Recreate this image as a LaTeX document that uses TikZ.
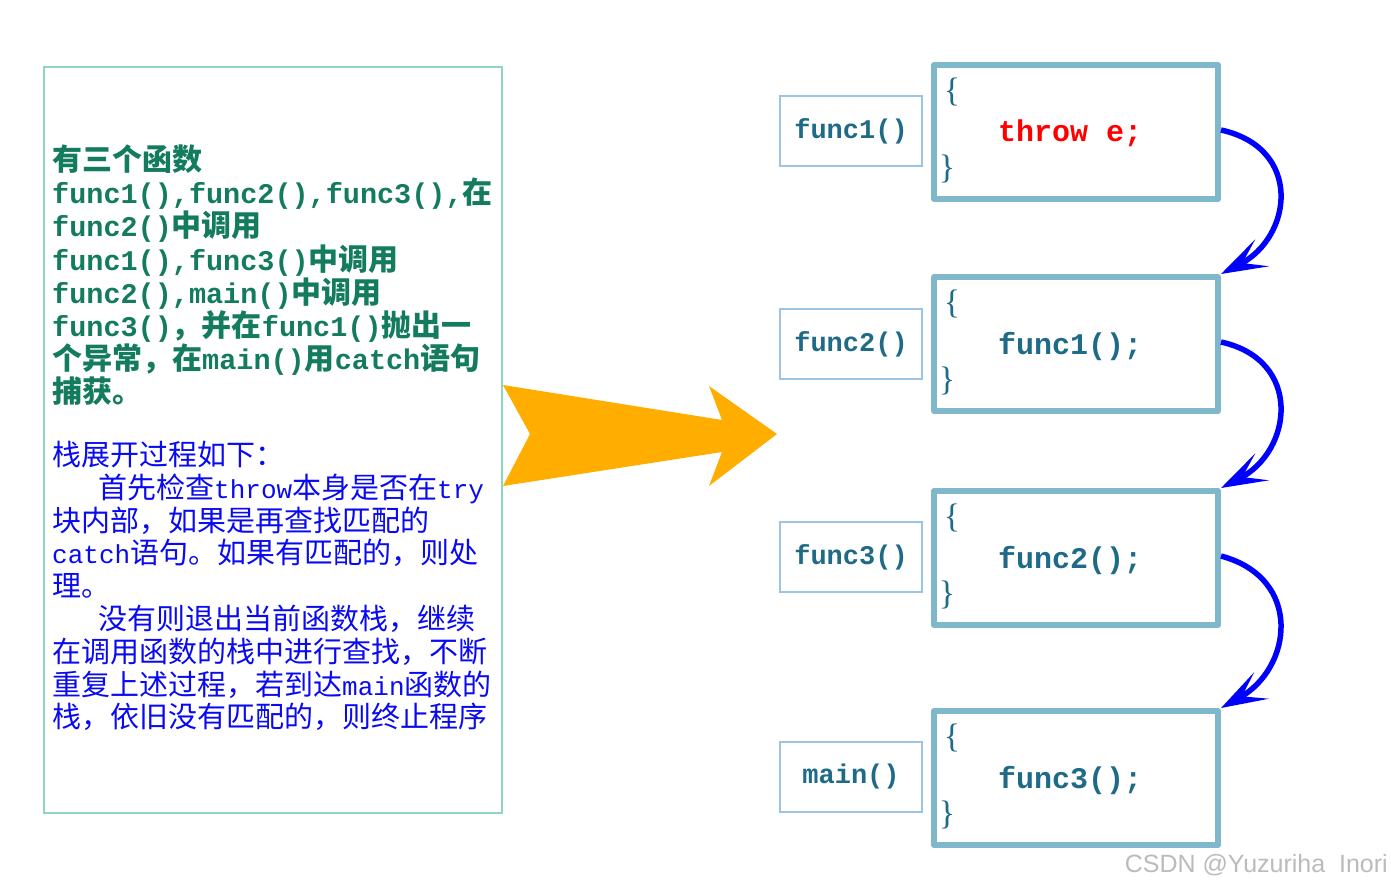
\documentclass[tikz,border=0pt]{standalone}
\usepackage{fontspec}
\setmainfont{Liberation Serif}
\newfontfamily\cjk{Noto Sans CJK SC}
\newfontfamily\mono{Liberation Mono}
\newfontfamily\wmfont{Liberation Sans}
\usetikzlibrary{arrows.meta}
\definecolor{gtxt}{HTML}{137B5E}
\definecolor{btxt}{HTML}{0A0AF0}
\definecolor{code}{HTML}{1F6B87}
\definecolor{boxc}{HTML}{7FB7CB}
\definecolor{lbox}{HTML}{9DC3E6}
\definecolor{mint}{HTML}{8ED6C2}
\definecolor{orng}{HTML}{FFAE00}
\definecolor{wmc}{HTML}{BBBBBB}
\newcommand\Gl[1]{{\mono\bfseries\fontsize{28.5}{33}\selectfont #1}}
\newcommand\Bl[1]{{\mono\fontsize{26}{33}\selectfont #1}}
\tikzset{
  gline/.style={anchor=base west, inner sep=0pt, text=gtxt, font=\cjk\bfseries\fontsize{30}{33}\selectfont},
  bline/.style={anchor=base west, inner sep=0pt, text=btxt, font=\cjk\fontsize{29}{33}\selectfont},
  leftbox/.style={draw=mint, line width=1.5pt, minimum width=458pt, minimum height=746pt, inner sep=0pt},
  smallbox/.style={draw=lbox, line width=1.5pt, minimum width=142pt, minimum height=70pt, inner sep=0pt, text=code, font=\mono\bfseries\fontsize{27}{30}\selectfont},
  bigbox/.style={draw=boxc, line width=6pt, line join=round, minimum width=284pt, minimum height=134pt, inner sep=0pt},
  brace/.style={inner sep=0pt, text=code, font=\fontsize{34}{36}\selectfont},
  codetxt/.style={anchor=base west, inner sep=0pt, text=code, font=\mono\bfseries\fontsize{30}{33}\selectfont},
  flow/.style={draw=blue, line width=5.5pt, -{Stealth[length=46pt,width=30pt,inset=22pt]}},
}
\begin{document}
\begin{tikzpicture}[x=1pt, y=-1pt]
\useasboundingbox (0,0) rectangle (1391,885);
% left box
\node[leftbox] (lb) at (273,440) {};
\node[gline] (g1) at (52,171) {有三个函数};
\node[gline] (g2) at (52,204) {\Gl{func1(),func2(),func3(),}在};
\node[gline] (g3) at (52,237) {\Gl{func2()}中调用};
\node[gline] (g4) at (52,270) {\Gl{func1(),func3()}中调用};
\node[gline] (g5) at (52,303) {\Gl{func2(),main()}中调用};
\node[gline] (g6) at (52,336) {\Gl{func3()}，并在\Gl{func1()}抛出一};
\node[gline] (g7) at (52,369) {个异常，在\Gl{main()}用\Gl{catch}语句};
\node[gline] (g8) at (52,402) {捕获。};
\node[bline] (t1) at (52,465) {栈展开过程如下：};
\node[bline] (t2) at (98,498) {首先检查\Bl{throw}本身是否在\Bl{try}};
\node[bline] (t3) at (52,531) {块内部，如果是再查找匹配的};
\node[bline] (t4) at (52,563) {\Bl{catch}语句。如果有匹配的，则处};
\node[bline] (t5) at (52,596) {理。};
\node[bline] (t6) at (98,629) {没有则退出当前函数栈，继续};
\node[bline] (t7) at (52,662) {在调用函数的栈中进行查找，不断};
\node[bline] (t8) at (52,695) {重复上述过程，若到达\Bl{main}函数的};
\node[bline] (t9) at (52,727) {栈，依旧没有匹配的，则终止程序};
% orange arrow
\fill[orng] (503,385) -- (722,420) -- (709,386) -- (777,434) -- (709,486) -- (722,452) -- (503,486) -- (530,434) -- cycle;
% small boxes
\node[smallbox] (s1) at (851,131) {func1()};
\node[smallbox] (s2) at (851,344) {func2()};
\node[smallbox] (s3) at (851,557) {func3()};
\node[smallbox] (s4) at (851,777) {main()};
% big boxes
\node[bigbox] (b1) at (1076,132) {};
\node[bigbox] (b2) at (1076,344) {};
\node[bigbox] (b3) at (1076,558) {};
\node[bigbox] (b4) at (1076,778) {};
\foreach \b in {b1,b2,b3,b4}{
  \node[brace] (\b o) at ([shift={(21,30)}]\b.north west) {\{};
  \node[brace] (\b c) at ([shift={(16,107)}]\b.north west) {\}};
}
\node[codetxt, text=red] (c1) at ([shift={(67,80)}]b1.north west) {throw e;};
\node[codetxt] (c2) at ([shift={(67,80)}]b2.north west) {func1();};
\node[codetxt] (c3) at ([shift={(67,80)}]b3.north west) {func2();};
\node[codetxt] (c4) at ([shift={(67,80)}]b4.north west) {func3();};
% curved arrows
\draw[flow] ([yshift=2]b1.east) .. controls +(82,18) and +(72,-37) .. (b2.north east);
\draw[flow] ([yshift=2]b2.east) .. controls +(82,18) and +(72,-37) .. (b3.north east);
\draw[flow] ([yshift=2]b3.east) .. controls +(82,22) and +(72,-40) .. (b4.north east);
% watermark
\node[anchor=base east, inner sep=0pt, text=wmc, font=\wmfont\fontsize{25}{27}\selectfont] (wm) at (1388,872) {CSDN @Yuzuriha\ \ Inori};
\end{tikzpicture}
\end{document}
